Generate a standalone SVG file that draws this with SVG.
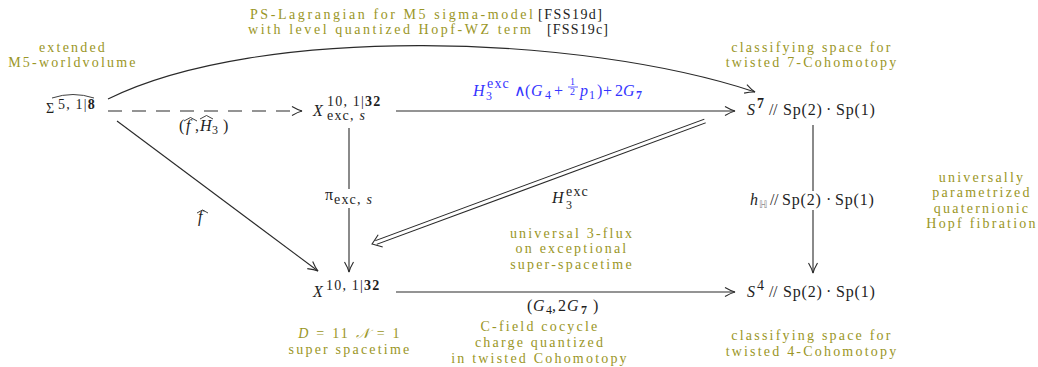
<svg xmlns="http://www.w3.org/2000/svg" width="1038" height="367" viewBox="0 0 1038 367">
<style>
.ol{fill:#9a9626;font-family:"Liberation Serif","Times New Roman",serif;font-size:14px;letter-spacing:2.2px;text-anchor:middle}
.olt{fill:#9a9626;font-family:"Liberation Serif","Times New Roman",serif;font-size:14px}
.ref{fill:#222;font-family:"Liberation Serif","Times New Roman",serif;font-size:14px}
.m{fill:#1e1e1e;font-family:"Liberation Serif","DejaVu Sans",serif;font-size:16px;letter-spacing:0.8px}
.bl{fill:#3535ff}
.i{font-style:italic}
.sup{font-size:14px;letter-spacing:1.2px}
.sm{font-size:12px}
.b{font-weight:bold}
.e{stroke:#2a2a2a;stroke-width:1.1;fill:none}
.hat{stroke:#2a2a2a;stroke-width:0.9;fill:none}
</style>
<defs>
<marker id="ah" viewBox="-11 -6 12 12" refX="0" refY="0" markerWidth="12" markerHeight="12" markerUnits="userSpaceOnUse" orient="auto">
<path d="M-10,-4.5 Q-4,-1 0,0 Q-4,1 -10,4.5" fill="none" stroke="#2a2a2a" stroke-width="1.1"/>
</marker>
</defs>
<rect width="1038" height="367" fill="#fff"/>

<g id="connectors">
<path class="e" d="M108,99 C260,24 580,34 755,92" marker-end="url(#ah)"/>
<path class="e" d="M108,111 L302,111" stroke="#555" stroke-width="1.4" stroke-dasharray="14 10" marker-end="url(#ah)"/>
<path class="e" d="M396,111 L735,111" marker-end="url(#ah)"/>
<path class="e" d="M349,128 L349,272" marker-end="url(#ah)"/>
<path class="e" d="M117,121 L318,271" marker-end="url(#ah)"/>
<path d="M705,121 L376,242.5" stroke="#2a2a2a" stroke-width="5" fill="none"/>
<path d="M706,120.6 L375,242.8" stroke="#fff" stroke-width="3" fill="none"/>
<path transform="translate(372,244) rotate(159.7)" d="M-9,-6.5 Q-3,-2 0,0 Q-3,2 -9,6.5" fill="none" stroke="#2a2a2a" stroke-width="1.1"/>
<path class="e" d="M396,292 L735,292" marker-end="url(#ah)"/>
<path class="e" d="M813,125 L813,273" marker-end="url(#ah)"/>

<g id="lbl-fH">
<text class="m"><tspan x="179" y="131">(</tspan><tspan x="186" y="131" class="i">f</tspan><tspan x="195" y="131">,</tspan><tspan x="200" y="131" class="i">H</tspan><tspan x="212" y="134" class="sm">3</tspan><tspan x="223" y="131">)</tspan></text>
<path class="hat" d="M184,121 L190.5,117.5 L197,121"/>
<path class="hat" d="M200,119 L206.5,115.5 L213,119"/>
</g>
<g id="lbl-blue">
<text class="m bl"><tspan x="473" y="96" class="i">H</tspan><tspan x="487" y="88" class="sup">exc</tspan><tspan x="486" y="100" class="sm">3</tspan><tspan x="514" y="96">∧</tspan><tspan x="525" y="96">(</tspan><tspan x="531" y="96" class="i">G</tspan><tspan x="545" y="99" class="sm">4</tspan><tspan x="554" y="96">+</tspan><tspan x="570" y="85" font-size="10">1</tspan><tspan x="570" y="95" font-size="10">2</tspan><tspan x="580" y="96" class="i">p</tspan><tspan x="589" y="99" class="sm">1</tspan><tspan x="597" y="96">)</tspan><tspan x="603" y="96">+</tspan><tspan x="615" y="96">2</tspan><tspan x="623" y="96" class="i">G</tspan><tspan x="636" y="99" class="sm b">7</tspan></text>
<path d="M568,87 L578,87" stroke="#3535ff" stroke-width="0.8"/>
</g>
<rect x="322" y="189" width="54" height="19" fill="#fff"/>
<text class="m"><tspan x="325" y="200">π</tspan><tspan x="334" y="204" class="sup">exc, <tspan class="i">s</tspan></tspan></text>
<g id="lbl-f">
<text class="m i" x="198" y="222">f</text>
<path class="hat" d="M197,213 L202.5,210 L208,213"/>
</g>
<text class="m"><tspan x="552" y="203" class="i">H</tspan><tspan x="566" y="196" class="sup">exc</tspan><tspan x="566" y="209" class="sm">3</tspan></text>
<rect x="746" y="191" width="134" height="19" fill="#fff"/>
<text class="m"><tspan x="750" y="205" class="i">h</tspan><tspan x="759" y="208" font-size="10" fill="#888">ℍ</tspan><tspan x="770" y="205">/</tspan><tspan x="774" y="205">/</tspan><tspan x="782" y="205">Sp(2)</tspan><tspan x="826" y="205">·</tspan><tspan x="835" y="205">Sp(1)</tspan></text>
<text class="m"><tspan x="527" y="311">(</tspan><tspan x="533" y="311" class="i">G</tspan><tspan x="546" y="314" class="sm">4</tspan><tspan x="552" y="311">,</tspan><tspan x="558" y="311">2</tspan><tspan x="567" y="311" class="i">G</tspan><tspan x="581" y="314" class="sm b">7</tspan><tspan x="593" y="311">)</tspan></text>
</g>

<g id="n-sigma">
<text class="m"><tspan x="46" y="113" font-size="14">Σ</tspan><tspan x="58" y="109" class="sup">5, 1|<tspan class="b">8</tspan></tspan></text>
<path class="hat" d="M52,98 Q73,91 94,98"/>
</g>
<g id="n-xexc">
<text class="m"><tspan x="313" y="116" class="i">X</tspan><tspan x="327" y="106" class="sup">10, 1|<tspan class="b">32</tspan></tspan><tspan x="327" y="120" class="sup">exc, <tspan class="i">s</tspan></tspan></text>
</g>
<g id="n-s7">
<text class="m"><tspan x="747" y="115" class="i">S</tspan><tspan x="757" y="108" class="sup b">7</tspan><tspan x="769" y="115">/</tspan><tspan x="773" y="115">/</tspan><tspan x="783" y="115">Sp(2)</tspan><tspan x="826" y="115">·</tspan><tspan x="836" y="115">Sp(1)</tspan></text>
</g>
<g id="n-x">
<text class="m"><tspan x="313" y="297" class="i">X</tspan><tspan x="326" y="290" class="sup">10, 1|<tspan class="b">32</tspan></tspan></text>
</g>
<g id="n-s4">
<text class="m"><tspan x="747" y="297" class="i">S</tspan><tspan x="757" y="290" class="sup">4</tspan><tspan x="769" y="297">/</tspan><tspan x="773" y="297">/</tspan><tspan x="783" y="297">Sp(2)</tspan><tspan x="826" y="297">·</tspan><tspan x="836" y="297">Sp(1)</tspan></text>
</g>

<g id="notes">
<text class="olt" x="250" y="19" textLength="283">PS-Lagrangian for M5 sigma-model</text>
<text class="ref" x="538" y="19" textLength="64">[FSS19d]</text>
<text class="olt" x="248" y="34" textLength="283">with level quantized Hopf-WZ term</text>
<text class="ref" x="547" y="34" textLength="61">[FSS19c]</text>
<text class="ol"><tspan x="73" y="52">extended</tspan><tspan x="73" y="67">M5-worldvolume</tspan></text>
<text class="ol"><tspan x="812" y="52">classifying space for</tspan><tspan x="812" y="67">twisted 7-Cohomotopy</tspan></text>
<text class="ol"><tspan x="982" y="182">universally</tspan><tspan x="982" y="197">parametrized</tspan><tspan x="982" y="213">quaternionic</tspan><tspan x="982" y="228">Hopf fibration</tspan></text>
<text class="ol"><tspan x="572" y="238">universal 3-flux</tspan><tspan x="572" y="253">on exceptional</tspan><tspan x="572" y="269">super-spacetime</tspan></text>
<text class="ol"><tspan x="350" y="338"><tspan class="i">D</tspan> = 11 <tspan class="i">𝒩</tspan> = 1</tspan><tspan x="350" y="354">super spacetime</tspan></text>
<text class="ol"><tspan x="540" y="331">C-field cocycle</tspan><tspan x="540" y="347">charge quantized</tspan><tspan x="540" y="363">in twisted Cohomotopy</tspan></text>
<text class="ol"><tspan x="812" y="340">classifying space for</tspan><tspan x="812" y="356">twisted 4-Cohomotopy</tspan></text>
</g>
</svg>
